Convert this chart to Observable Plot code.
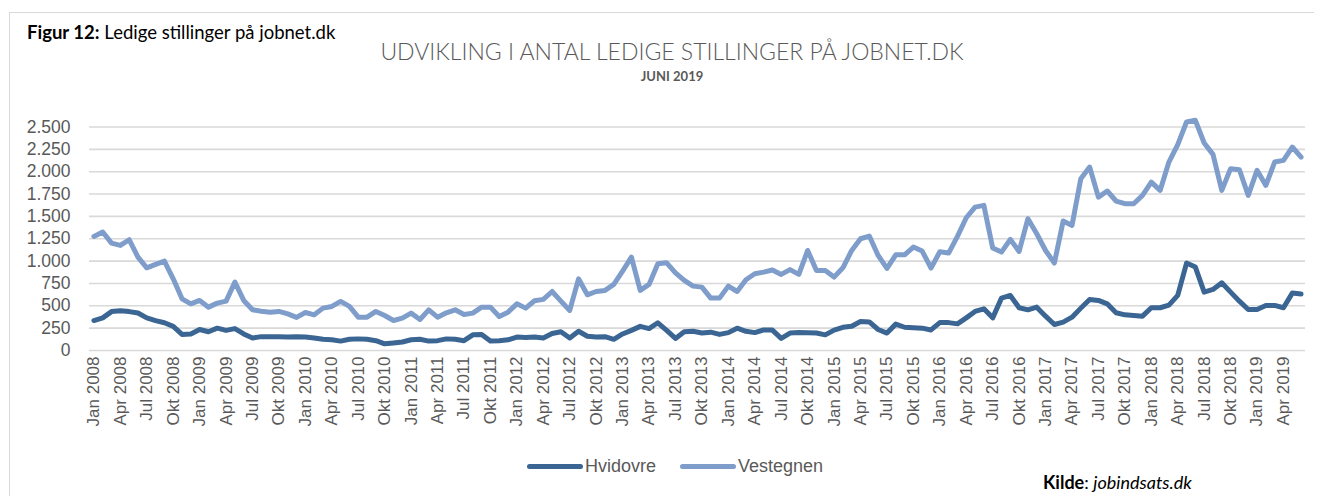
<!DOCTYPE html>
<html><head><meta charset="utf-8">
<script src="https://cdn.jsdelivr.net/npm/d3@7"></script>
<script src="https://cdn.jsdelivr.net/npm/@observablehq/plot@0.6"></script>
<style>
html,body{margin:0;padding:0;background:#fff;}
#wrap{position:relative;width:1322px;height:496px;overflow:hidden;}
#frame{position:absolute;left:9px;top:12px;width:1304px;height:520px;border-top:1.5px solid #d9d9d9;border-left:1.5px solid #d9d9d9;}
#fig{position:absolute;left:27px;top:21px;font:18.5px Lato,sans-serif;color:#000;white-space:nowrap;}
#title{position:absolute;left:0;width:1344px;top:37px;text-align:center;font:300 23px Lato,sans-serif;color:#595959;white-space:nowrap;}
#sub{position:absolute;left:0;width:1344px;top:68px;text-align:center;font:bold 13px Lato,sans-serif;color:#595959;}
#chart{position:absolute;left:0;top:0;}
.leg{position:absolute;top:456px;font:18px "Liberation Sans",Arial,sans-serif;color:#595959;white-space:nowrap;}
.sw{display:inline-block;width:56px;height:5px;border-radius:3px;vertical-align:middle;margin-right:2px;position:relative;top:-1px;}
#kilde{position:absolute;left:1043px;top:473px;font:18px/1 Lato,sans-serif;color:#000;white-space:nowrap;}
</style></head>
<body><div id="wrap">
<div id="frame"></div>
<div id="chart"></div>
<div id="fig"><b>Figur 12:</b> Ledige stillinger på jobnet.dk</div>
<div id="title">UDVIKLING I ANTAL LEDIGE STILLINGER PÅ JOBNET.DK</div>
<div id="sub">JUNI 2019</div>
<div id="legend"></div>
<div id="kilde"><b>Kilde</b>: <i>jobindsats.dk</i></div>
</div>
<script>
// Danish month abbreviations and years
const monthNames = ["Jan","Feb","Mar","Apr","Maj","Jun","Jul","Aug","Sep","Okt","Nov","Dec"];
const years = [2008,2009,2010,2011,2012,2013,2014,2015,2016,2017,2018,2019];
const lastMonthCount = 6; // data ends June 2019

const seriesNames = ["Hvidovre","Vestegnen"];
const seriesColors = ["#3b6593","#7f9dca"];

const hvidovre = [
  335,365,435,445,435,420,365,335,310,270,180,185,
  235,210,250,225,245,185,140,155,155,155,150,155,
  150,140,125,120,105,125,130,125,110,75,85,95,
  120,125,105,110,130,125,110,175,180,105,110,120,
  150,145,150,140,190,210,140,215,160,150,155,125,
  185,225,270,245,310,225,135,210,215,195,205,180,
  200,250,215,200,230,228,135,195,200,198,195,175,
  228,260,272,325,320,235,195,295,260,255,250,230,
  312,312,298,365,437,466,365,586,616,478,455,485,
  384,291,317,373,474,571,560,522,422,399,392,384,
  478,478,507,616,978,933,653,683,757,653,552,459,
  459,504,504,478,642,631
];
const vestegnen = [
  1276,1325,1201,1175,1239,1045,925,963,1000,802,578,522,
  560,485,530,552,765,560,455,440,429,437,410,370,
  425,399,474,493,549,493,373,373,437,392,336,362,
  418,347,455,373,422,455,403,418,485,485,380,429,
  522,474,556,572,660,552,448,802,623,660,672,739,
  888,1045,672,739,970,981,869,784,720,709,586,586,
  720,660,791,858,877,901,851,905,851,1119,896,896,
  821,925,1119,1250,1280,1063,918,1070,1070,1157,1112,922,
  1104,1090,1276,1485,1604,1623,1146,1101,1243,1108,1474,1306,
  1119,978,1448,1399,1922,2052,1716,1784,1672,1642,1642,1735,
  1884,1791,2108,2302,2556,2575,2321,2194,1791,2034,2022,1735,
  2015,1847,2108,2127,2276,2164
];
const yTicks = [0,250,500,750,1000,1250,1500,1750,2000,2250,2500];

// Build month category labels
const months = [];
years.forEach((yr, yi) => {
  const n = yi === years.length - 1 ? lastMonthCount : 12;
  for (let m = 0; m < n; m++) months.push(monthNames[m] + " " + yr);
});
const xTicks = months.filter((d, i) => i % 3 === 0);

const rows = [];
months.forEach((m, i) => {
  rows.push({month: m, series: "Vestegnen", value: vestegnen[i]});
});
months.forEach((m, i) => {
  rows.push({month: m, series: "Hvidovre", value: hvidovre[i]});
});

const daLocale = d3.formatLocale({decimal: ",", thousands: ".", grouping: [3], currency: ["", " kr."]});
const fmt = daLocale.format(",");

const chart = Plot.plot({
  width: 1322,
  height: 496,
  marginLeft: 89,
  marginRight: 17,
  marginTop: 126.5,
  marginBottom: 146,
  style: {fontFamily: "'Liberation Sans', Arial, sans-serif", background: "transparent", overflow: "visible"},
  x: {type: "point", domain: months, padding: 0.5},
  y: {domain: [0, 2500]},
  color: {domain: seriesNames, range: seriesColors},
  marks: [
    Plot.ruleY(yTicks, {stroke: "#d9d9d9", strokeWidth: 1.6}),
    Plot.axisY({ticks: yTicks, tickSize: 0, tickPadding: 19, tickFormat: fmt, fontSize: 17.5, color: "#595959", label: null}),
    Plot.axisX({ticks: xTicks, tickSize: 0, tickRotate: -90, tickPadding: 6, fontSize: 17, color: "#595959", label: null}),
    Plot.line(rows, {x: "month", y: "value", z: "series", stroke: "series", strokeWidth: 5, strokeLinejoin: "round", strokeLinecap: "round"})
  ]
});
document.getElementById("chart").appendChild(chart);

// Legend
const legend = document.getElementById("legend");
const legLeft = [527, 680];
seriesNames.forEach((s, i) => {
  const d = document.createElement("div");
  d.className = "leg";
  d.style.left = legLeft[i] + "px";
  d.innerHTML = `<span class="sw" style="background:${seriesColors[i]}"></span>${s}`;
  legend.appendChild(d);
});
</script>
</body></html>
